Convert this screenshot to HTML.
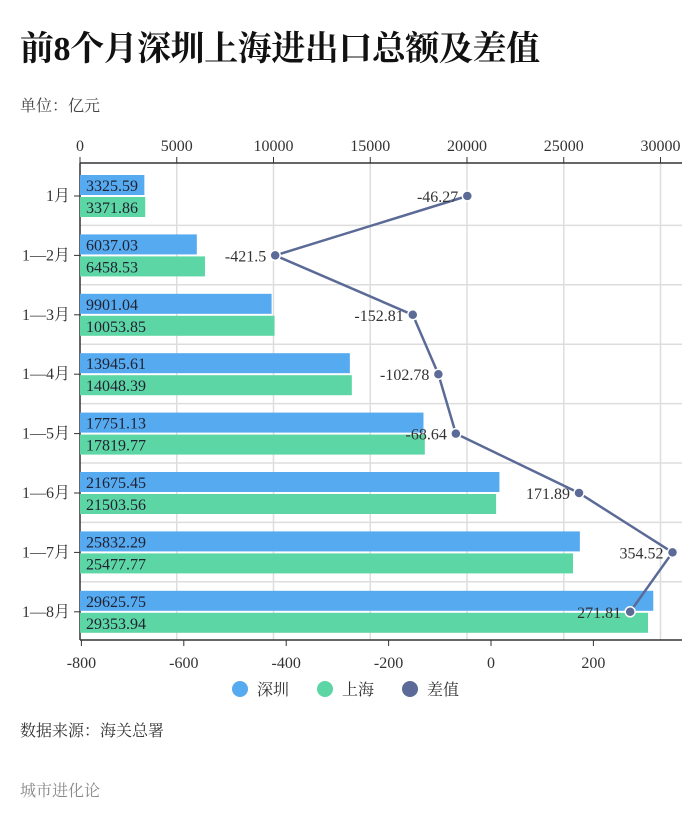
<!DOCTYPE html>
<html><head><meta charset="utf-8">
<style>
body{margin:0;background:#fff;}
#wrap{position:relative;width:700px;height:840px;overflow:hidden;background:#fff;}
svg text{font-family:"Liberation Serif","Noto Serif CJK SC",serif;}
</style></head>
<body>
<div id="wrap">
<svg id="chart" width="700" height="840" xmlns="http://www.w3.org/2000/svg">
<text x="20" y="60" font-size="34" font-weight="bold" fill="#111" textLength="520">前8个月深圳上海进出口总额及差值</text>
<text x="20" y="111" font-size="16" fill="#444" font-family="Liberation Sans, Noto Sans CJK SC, sans-serif">单位：亿元</text>
<text x="20" y="736" font-size="16" fill="#333">数据来源：海关总署</text>
<text x="20" y="796" font-size="16" fill="#888">城市进化论</text>
<g id="plot"></g>
</svg>
</div>
<script>
const categories=["1月","1—2月","1—3月","1—4月","1—5月","1—6月","1—7月","1—8月"];
const shenzhen=[3325.59,6037.03,9901.04,13945.61,17751.13,21675.45,25832.29,29625.75];
const shanghai=[3371.86,6458.53,10053.85,14048.39,17819.77,21503.56,25477.77,29353.94];
const diff=[-46.27,-421.5,-152.81,-102.78,-68.64,171.89,354.52,271.81];
const topTicks=[0,5000,10000,15000,20000,25000,30000];
const bottomTicks=[-800,-600,-400,-200,0,200];
const NS="http://www.w3.org/2000/svg";
const g=document.getElementById('plot');
function mk(t,a,p){const e=document.createElementNS(NS,t);for(const k in a)e.setAttribute(k,a[k]);(p||g).appendChild(e);return e;}
const xTop=v=>80+v*0.01935;
const xBot=v=>491+v*0.512;
const bandTop=166,bandStep=59.4;
const yBand=i=>bandTop+i*bandStep;
const plotTop=163,plotBot=640;
for(let i=1;i<categories.length;i++){const l=mk('line',{x1:80,x2:682,y1:yBand(i),y2:yBand(i),stroke:'#ddd','stroke-width':1.5});

}
topTicks.forEach(v=>{const x=xTop(v);
 if(v>0){const l=mk('line',{x1:x,x2:x,y1:plotTop,y2:plotBot,stroke:'#ddd','stroke-width':1.5});
 
 }
 const tk=mk('line',{x1:x,x2:x,y1:plotTop-6,y2:plotTop,stroke:'#333'});
 
 
 const t=mk('text',{x:x,y:151,'text-anchor':'middle','font-size':16,fill:'#333'});t.textContent=v;
 
 });
bottomTicks.forEach(v=>{const x=xBot(v);
 const tk=mk('line',{x1:x,x2:x,y1:plotBot,y2:plotBot+6,stroke:'#333'});
 
 
 const t=mk('text',{x:x,y:668,'text-anchor':'middle','font-size':16,fill:'#333'});t.textContent=v;
 
 });
let a=mk('line',{x1:80,x2:682,y1:plotTop,y2:plotTop,stroke:'#333','stroke-width':1.5});

a=mk('line',{x1:80,x2:682,y1:plotBot,y2:plotBot,stroke:'#333','stroke-width':1.5});

a=mk('line',{x1:80,x2:80,y1:plotTop,y2:plotBot,stroke:'#333','stroke-width':1.5});

categories.forEach((c,i)=>{const yc=yBand(i)+30;
 const tk=mk('line',{x1:74,x2:80,y1:yc,y2:yc,stroke:'#333'});
 
 
 const t=mk('text',{x:70,y:yc+5,'text-anchor':'end','font-size':16,fill:'#333'});t.textContent=c;
 
 
 const b1=mk('rect',{x:80,y:yc-21,width:xTop(shenzhen[i])-80,height:20,fill:'#55aaf0'});
 
 
 const b2=mk('rect',{x:80,y:yc+1,width:xTop(shanghai[i])-80,height:20,fill:'#5dd6a5'});
 
 
 const t1=mk('text',{x:86,y:yc-5,'font-size':16,fill:'#223'});t1.textContent=shenzhen[i].toFixed(2);
 
 
 const t2=mk('text',{x:86,y:yc+17,'font-size':16,fill:'#223'});t2.textContent=shanghai[i].toFixed(2);
 
 
});
const pts=diff.map((v,i)=>[xBot(v),yBand(i)+30]);
const pl=mk('polyline',{points:pts.map(p=>p.join(',')).join(' '),fill:'none',stroke:'#5b6a96','stroke-width':2.5});


pts.forEach((p,i)=>{const c=mk('circle',{cx:p[0],cy:p[1],r:5,fill:'#5b6a96',stroke:'#fff','stroke-width':1.5});
 
 
 const t=mk('text',{x:p[0]-9,y:p[1]+6,'text-anchor':'end','font-size':16,fill:'#333'});t.textContent=diff[i];
 
 });
[["深圳","#55aaf0",240],["上海","#5dd6a5",325],["差值","#5b6a96",410]].forEach(d=>{
 const c=mk('circle',{cx:d[2],cy:689,r:8,fill:d[1]});
 
 
 const t=mk('text',{x:d[2]+17,y:695,'font-size':16,fill:'#333'});t.textContent=d[0];
 
 });
</script>
</body></html>
